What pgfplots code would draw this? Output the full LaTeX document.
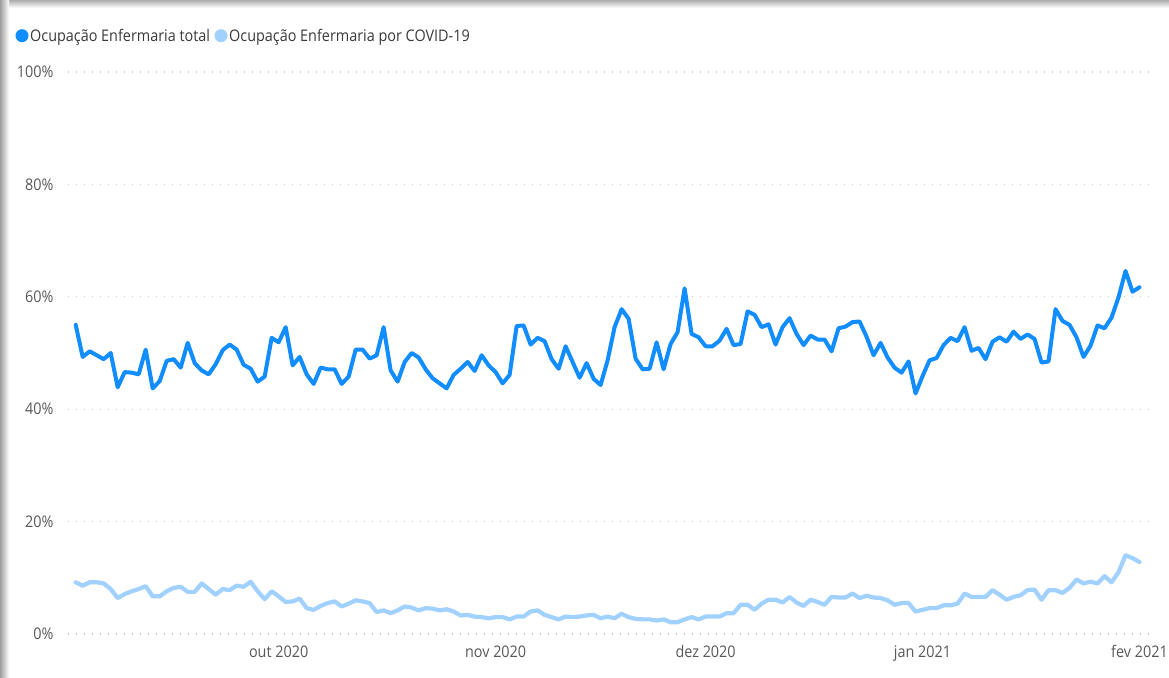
\documentclass[border=0pt]{standalone}
\usepackage{pgfplots}
\pgfplotsset{compat=1.18}
\usepackage{pgfplotstable}
\usepackage{fontspec}
\setmainfont{Open Sans}[FakeStretch=0.9]
\definecolor{totalblue}{HTML}{118DFF}
\definecolor{covidblue}{HTML}{A0D1FF}
\definecolor{gridgray}{HTML}{C8C8C8}
\definecolor{ticktext}{HTML}{5A5856}
\definecolor{legtext}{HTML}{3A3A3A}

% day index from 2 Sep 2020 (0) to 1 Feb 2021 (152), occupancy in %
\pgfplotstableread{
k total covid
0 55.0 9.2
1 49.3 8.6
2 50.3 9.2
3 49.6 9.2
4 48.9 9.0
5 50.0 8.0
6 43.9 6.4
7 46.6 7.1
8 46.5 7.6
9 46.2 8.0
10 50.6 8.5
11 43.7 6.7
12 45.0 6.7
13 48.6 7.6
14 48.9 8.2
15 47.4 8.4
16 51.8 7.5
17 48.2 7.5
18 46.9 9.0
19 46.2 8.0
20 48.0 7.0
21 50.5 8.0
22 51.5 7.8
23 50.6 8.6
24 47.9 8.4
25 47.2 9.3
26 44.9 7.6
27 45.8 6.2
28 52.7 7.6
29 51.9 6.7
30 54.6 5.7
31 47.8 5.8
32 49.3 6.3
33 46.2 4.6
34 44.5 4.3
35 47.4 5.0
36 47.1 5.5
37 47.1 5.8
38 44.5 4.9
39 45.8 5.4
40 50.6 6.0
41 50.6 5.8
42 49.0 5.5
43 49.6 3.9
44 54.6 4.2
45 46.9 3.7
46 44.9 4.2
47 48.4 4.9
48 50.0 4.7
49 49.2 4.2
50 47.1 4.6
51 45.5 4.5
52 44.6 4.2
53 43.7 4.4
54 46.1 4.0
55 47.2 3.3
56 48.4 3.4
57 46.8 3.1
58 49.6 3.0
59 47.8 2.8
60 46.6 3.0
61 44.6 3.0
62 46.1 2.6
63 54.8 3.1
64 54.9 3.1
65 51.5 4.0
66 52.7 4.2
67 52.1 3.4
68 48.9 3.0
69 47.2 2.6
70 51.2 3.1
71 48.4 3.0
72 45.6 3.1
73 48.2 3.3
74 45.4 3.4
75 44.3 2.8
76 48.7 3.1
77 54.6 2.8
78 57.8 3.6
79 56.1 3.0
80 49.0 2.7
81 47.1 2.6
82 47.2 2.6
83 51.9 2.4
84 47.1 2.6
85 51.6 2.1
86 53.7 2.1
87 61.5 2.6
88 53.4 3.0
89 52.8 2.6
90 51.2 3.1
91 51.2 3.1
92 52.2 3.1
93 54.3 3.7
94 51.4 3.7
95 51.6 5.2
96 57.4 5.2
97 56.8 4.3
98 54.6 5.4
99 55.1 6.1
100 51.5 6.1
101 54.6 5.6
102 56.2 6.6
103 53.4 5.6
104 51.4 5.0
105 53.1 6.1
106 52.4 5.7
107 52.4 5.2
108 50.3 6.6
109 54.4 6.5
110 54.7 6.5
111 55.5 7.2
112 55.6 6.4
113 52.9 6.8
114 49.6 6.5
115 51.8 6.4
116 49.2 6.0
117 47.4 5.2
118 46.5 5.5
119 48.5 5.5
120 42.8 4.0
121 45.9 4.3
122 48.7 4.6
123 49.1 4.6
124 51.4 5.1
125 52.7 5.1
126 52.1 5.4
127 54.6 7.2
128 50.4 6.6
129 50.9 6.6
130 48.9 6.6
131 52.0 7.8
132 52.8 7.0
133 52.0 6.1
134 53.8 6.6
135 52.5 6.9
136 53.3 7.8
137 52.5 7.9
138 48.3 6.1
139 48.5 7.8
140 57.8 7.8
141 55.7 7.3
142 55.0 8.2
143 52.8 9.7
144 49.3 9.0
145 51.3 9.3
146 54.9 9.0
147 54.4 10.3
148 56.3 9.2
149 59.9 11.0
150 64.6 14.0
151 60.9 13.5
152 61.7 12.8
}\occupancy

\begin{document}
\begin{tikzpicture}
\path[use as bounding box] (0pt,0pt) rectangle (1169pt,677pt);
\fill[white] (0pt,0pt) rectangle (1169pt,677pt);
% window shadow along the top and left edges
\shade[top color=black!32, bottom color=white] (0pt,669pt) rectangle (1169pt,677pt);
\shade[left color=black!38, right color=white] (0pt,0pt) rectangle (9pt,677pt);

\begin{axis}[
  at={(68pt,43pt)}, anchor=south west,
  scale only axis, width=1082pt, height=562pt,
  xmin=-1.1, xmax=153.5, ymin=0, ymax=100,
  axis line style={draw=none},
  major tick length=0pt,
  ytick={0,20,40,60,80,100},
  yticklabels={0\%,20\%,40\%,60\%,80\%,100\%},
  xtick={29,60,90,121,152},
  xticklabels={out 2020,nov 2020,dez 2020,jan 2021,fev 2021},
  ymajorgrids,
  major grid style={gridgray, line width=1.1pt, dash pattern=on 1.1pt off 6.9pt},
  tick label style={font=\fontsize{16}{19}\selectfont, text=ticktext},
  yticklabel style={xshift=-11pt},
  xticklabel style={yshift=-8pt},
  clip=false,
]
  \addplot[covidblue, line width=4.2pt, line join=round, line cap=round] table[x=k, y=covid] {\occupancy};
  \addplot[totalblue, line width=4pt, line join=round, line cap=round] table[x=k, y=total] {\occupancy};
\end{axis}

% legend
\fill[totalblue] (22pt,641.3pt) circle (6.5pt);
\node[anchor=base west, inner sep=0pt, text=legtext, font=\fontsize{16}{19}\selectfont] at (30pt,635.3pt) {Ocupação Enfermaria total};
\fill[covidblue] (221pt,641.3pt) circle (6.5pt);
\node[anchor=base west, inner sep=0pt, text=legtext, font=\fontsize{16}{19}\selectfont] at (229pt,635.3pt) {Ocupação Enfermaria por COVID-19};
\end{tikzpicture}
\end{document}
